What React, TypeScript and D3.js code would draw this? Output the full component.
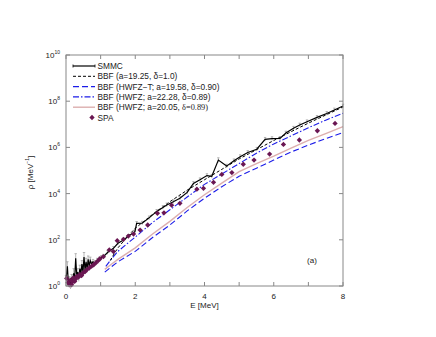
import React from 'react';
import * as d3 from 'd3';

// SMMC level density: E [MeV], log10(rho), log10 error half-width
const smmcE = [0.0, 0.04, 0.07, 0.10, 0.13, 0.16, 0.19, 0.22, 0.25, 0.28, 0.31, 0.34, 0.37, 0.40, 0.43, 0.46, 0.49, 0.52, 0.55, 0.58, 0.61, 0.64, 0.67, 0.70, 0.74, 0.78, 0.84, 0.90, 0.96, 1.02, 1.08, 1.2, 1.37, 1.5, 1.66, 1.8, 1.99, 2.04, 2.2, 2.4, 2.62, 2.8, 2.91, 3.1, 3.29, 3.5, 3.68, 3.87, 4.07, 4.21, 4.40, 4.64, 4.85, 5.03, 5.25, 5.51, 5.75, 5.95, 6.18, 6.35, 6.57, 6.75, 6.96, 7.25, 7.53, 7.75, 8.0];
const smmcLog = [0.30, 0.85, 0.10, 0.25, 0.02, 0.35, 0.15, 0.55, 0.30, 1.20, 0.45, 0.60, 0.35, 0.75, 0.55, 0.95, 0.60, 1.25, 0.70, 1.05, 0.75, 1.15, 0.85, 1.10, 0.95, 1.05, 1.00, 1.10, 1.15, 1.22, 1.27, 1.45, 1.63, 1.85, 1.99, 2.15, 2.35, 2.71, 2.72, 2.95, 3.23, 3.40, 3.51, 3.65, 3.80, 4.05, 4.44, 4.60, 4.78, 4.75, 5.45, 5.19, 5.42, 5.60, 5.78, 5.92, 6.35, 6.38, 6.39, 6.62, 6.83, 6.97, 7.11, 7.30, 7.47, 7.62, 7.79];
const smmcErr = [0.15, 0.2, 0.15, 0.15, 0.15, 0.15, 0.15, 0.2, 0.15, 0.2, 0.15, 0.15, 0.15, 0.15, 0.15, 0.15, 0.15, 0.2, 0.15, 0.15, 0.15, 0.15, 0.15, 0.15, 0.1, 0.1, 0.1, 0.1, 0.1, 0.1, 0.1, 0.08, 0.08, 0.08, 0.08, 0.08, 0.08, 0.08, 0.08, 0.08, 0.08, 0.08, 0.08, 0.08, 0.08, 0.08, 0.08, 0.08, 0.08, 0.08, 0.1, 0.08, 0.08, 0.08, 0.08, 0.08, 0.08, 0.08, 0.08, 0.08, 0.08, 0.08, 0.08, 0.08, 0.08, 0.08, 0.08];

// BBF (a=19.25, delta=1.0)
const bbfE = [1.28, 1.4, 1.5, 1.75, 2.0, 2.5, 3.0, 3.5, 4.0, 4.5, 5.0, 5.5, 6.0, 6.5, 7.0, 7.5, 8.0];
const bbfLog = [1.1, 1.42, 1.65, 2.1, 2.5, 3.1, 3.65, 4.15, 4.6, 5.05, 5.5, 5.9, 6.3, 6.68, 7.05, 7.4, 7.75];

// BBF (HWFZ-T; a=19.58, delta=0.90)
const hwfztE = [1.12, 1.3, 1.5, 2.0, 2.5, 3.0, 3.5, 4.0, 4.5, 5.0, 5.5, 6.0, 6.5, 7.0, 7.5, 8.0];
const hwfztLog = [0.6, 0.82, 1.05, 1.5, 2.1, 2.64, 3.25, 3.8, 4.3, 4.75, 5.1, 5.45, 5.8, 6.1, 6.38, 6.64];

// BBF (HWFZ; a=22.28, delta=0.89)
const hwfzE = [1.15, 1.3, 1.5, 2.0, 2.5, 3.0, 3.5, 4.0, 4.5, 5.0, 5.5, 6.0, 6.5, 7.0, 7.5, 8.0];
const hwfzLog = [0.85, 1.15, 1.5, 2.12, 2.75, 3.3, 3.85, 4.4, 4.85, 5.3, 5.75, 6.15, 6.5, 6.85, 7.18, 7.48];

// BBF (HWFZ; a=20.05, delta=0.89)
const hwfz2E = [1.12, 1.3, 1.5, 2.0, 2.5, 3.0, 3.5, 4.0, 4.5, 5.0, 5.5, 6.0, 6.5, 7.0, 7.5, 8.0];
const hwfz2Log = [0.72, 0.93, 1.15, 1.65, 2.25, 2.8, 3.4, 3.95, 4.45, 4.95, 5.3, 5.62, 5.97, 6.3, 6.6, 6.9];

// SPA
const spaE = [0.02, 0.06, 0.10, 0.13, 0.16, 0.19, 0.21, 0.25, 0.28, 0.31, 0.36, 0.40, 0.45, 0.50, 0.55, 0.60, 0.67, 0.74, 0.80, 0.86, 0.93, 0.98, 1.08, 1.25, 1.37, 1.48, 1.66, 1.80, 1.95, 2.14, 2.36, 2.64, 2.83, 3.05, 3.29, 3.78, 3.97, 4.26, 4.50, 4.79, 5.12, 5.43, 5.88, 6.28, 6.74, 7.26, 7.77];
const spaLog = [0.33, 0.15, 0.05, 0.25, 0.05, 0.18, 0.35, 0.2, 0.3, 0.42, 0.38, 0.5, 0.45, 0.58, 0.62, 0.7, 0.78, 0.86, 0.92, 1.0, 1.1, 1.18, 1.27, 1.56, 1.49, 1.96, 2.02, 2.16, 2.25, 2.42, 2.64, 3.15, 3.17, 3.5, 3.58, 4.19, 4.23, 4.49, 4.83, 4.91, 5.27, 5.45, 5.71, 6.13, 6.32, 6.72, 7.04];

const xTicks = [0, 1, 2, 3, 4, 5, 6, 7, 8];
const xLabels = [0, 2, 4, 6, 8];
const yExps = [0, 2, 4, 6, 8, 10];

const legendLabels = [
  'SMMC',
  'BBF (a=19.25, δ=1.0)',
  'BBF (HWFZ−T; a=19.58, δ=0.90)',
  'BBF (HWFZ; a=22.28, δ=0.89)',
  'BBF (HWFZ; a=20.05, ',
  'SPA',
];

const BLUE = '#1c1ce8';
const PINK = '#dcaeae';
const PURPLE = '#6a1652';
const FONT = 'Liberation Sans, Arial, sans-serif';

const x = d3.scaleLinear().domain([0, 8]).range([66, 343]);
const y = d3.scaleLog().domain([1, 1e10]).range([286, 55]);

const pts = (es: number[], ls: number[]) => es.map((e, i) => [e, Math.pow(10, ls[i])] as [number, number]);

const line = d3.line<[number, number]>().x(d => x(d[0])).y(d => y(d[1]));
// square turned 45 degrees, like gnuplot's filled diamond
const diamond = d3.symbol().type(d3.symbolSquare).size(14)();

export default function App() {
  const smmc = pts(smmcE, smmcLog);
  const left = 66, right = 343, top = 55, bottom = 286;
  const legX0 = 73, legX1 = 95, legTx = 97.5, legY0 = 66, legDy = 10.3;

  return (
    <svg width={436} height={337} style={{ position: 'absolute', left: 0, top: 0, background: '#fff' }} fontFamily={FONT}>
      {/* curves */}
      <path d={line(pts(hwfz2E, hwfz2Log)) || ''} fill="none" stroke={PINK} strokeWidth={1.4} />
      <path d={line(pts(hwfztE, hwfztLog)) || ''} fill="none" stroke={BLUE} strokeWidth={1.1} strokeDasharray="6,3" />
      <path d={line(pts(hwfzE, hwfzLog)) || ''} fill="none" stroke={BLUE} strokeWidth={1.1} strokeDasharray="6,2,1.5,2" />
      <path d={line(pts(bbfE, bbfLog)) || ''} fill="none" stroke="#000" strokeWidth={1} strokeDasharray="3,2" />

      {/* SMMC error bars */}
      {smmc.map((d, i) => (
        <g key={'e' + i} stroke="#999" strokeWidth={0.7}>
          <line x1={x(d[0])} x2={x(d[0])} y1={y(Math.pow(10, smmcLog[i] - smmcErr[i]))} y2={y(Math.pow(10, smmcLog[i] + smmcErr[i]))} />
          <line x1={x(d[0]) - 1.2} x2={x(d[0]) + 1.2} y1={y(Math.pow(10, smmcLog[i] + smmcErr[i]))} y2={y(Math.pow(10, smmcLog[i] + smmcErr[i]))} />
        </g>
      ))}
      <path d={line(smmc) || ''} fill="none" stroke="#000" strokeWidth={1.2} />

      {/* SPA */}
      {pts(spaE, spaLog).map((d, i) => (
        <path key={'s' + i} d={diamond || ''} transform={`translate(${x(d[0])},${y(d[1])}) rotate(45)`} fill={PURPLE} />
      ))}

      {/* frame */}
      <rect x={left} y={top} width={right - left} height={bottom - top} fill="none" stroke="#888" strokeWidth={1} />
      {xTicks.map(t => (
        <g key={'xt' + t} stroke="#888">
          <line x1={x(t)} x2={x(t)} y1={bottom} y2={bottom - 4} />
          <line x1={x(t)} x2={x(t)} y1={top} y2={top + 4} />
        </g>
      ))}
      {yExps.map(p => (
        <g key={'yt' + p} stroke="#888">
          <line x1={left} x2={left + 4} y1={y(Math.pow(10, p))} y2={y(Math.pow(10, p))} />
          <line x1={right} x2={right - 4} y1={y(Math.pow(10, p))} y2={y(Math.pow(10, p))} />
        </g>
      ))}
      {xLabels.map(t => (
        <text key={'xl' + t} x={x(t)} y={bottom + 13} fontSize={8} textAnchor="middle" fill="#222">{t}</text>
      ))}
      {yExps.map(p => (
        <text key={'yl' + p} x={left - 6} y={y(Math.pow(10, p)) + 3} fontSize={8} textAnchor="end" fill="#222">
          10<tspan fontSize={5} dy={-4}>{p}</tspan>
        </text>
      ))}
      <text x={(left + right) / 2} y={308} fontSize={8} textAnchor="middle" fill="#222">E [MeV]</text>
      <text transform={`translate(33,${(top + bottom) / 2 + 2}) rotate(-90)`} fontSize={8} textAnchor="middle" fill="#222">
        ρ [MeV<tspan fontSize={5} dy={-4}>−1</tspan><tspan dy={4}>]</tspan>
      </text>
      <text x={312} y={263} fontSize={8} textAnchor="middle" fill="#222">(a)</text>

      {/* legend */}
      {legendLabels.map((lab, i) => {
        const ly = legY0 + i * legDy;
        return (
          <g key={'lg' + i}>
            {i === 0 && (
              <g stroke="#000">
                <line x1={legX0} x2={legX1} y1={ly} y2={ly} strokeWidth={1.2} />
                <line x1={legX0} x2={legX0} y1={ly - 1.5} y2={ly + 1.5} strokeWidth={0.8} />
                <line x1={legX1} x2={legX1} y1={ly - 1.5} y2={ly + 1.5} strokeWidth={0.8} />
              </g>
            )}
            {i === 1 && <line x1={legX0} x2={legX1} y1={ly} y2={ly} stroke="#000" strokeDasharray="3,2" />}
            {i === 2 && <line x1={legX0} x2={legX1} y1={ly} y2={ly} stroke={BLUE} strokeWidth={1.1} strokeDasharray="6,3" />}
            {i === 3 && <line x1={legX0} x2={legX1} y1={ly} y2={ly} stroke={BLUE} strokeWidth={1.1} strokeDasharray="6,2,1.5,2" />}
            {i === 4 && <line x1={legX0} x2={legX1} y1={ly} y2={ly} stroke={PINK} strokeWidth={1.4} />}
            {i === 5 && <path d={diamond || ''} transform={`translate(${legX1 - 3},${ly}) rotate(45)`} fill={PURPLE} />}
            <text x={legTx} y={ly + 3} fontSize={8.3} fill="#222">
              {lab}
              {i === 4 && <tspan fontFamily="Liberation Serif, serif">δ=0.89)</tspan>}
            </text>
          </g>
        );
      })}
    </svg>
  );
}
